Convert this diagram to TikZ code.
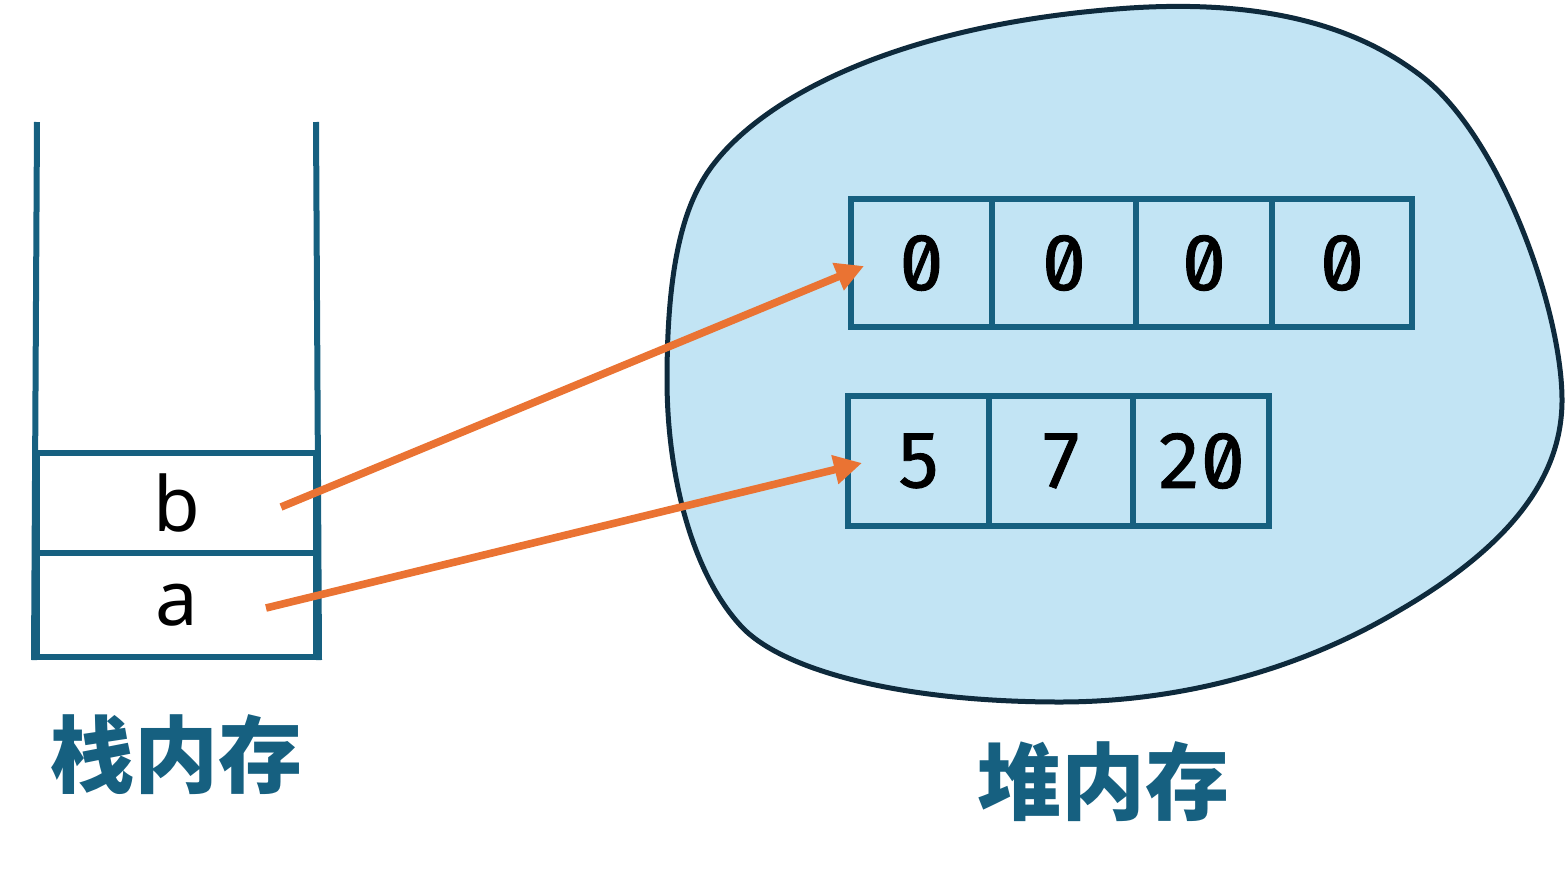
\documentclass[tikz,border=0pt]{standalone}
\usepackage{fontspec}
\setmainfont{Noto Sans}
\newfontfamily\monofont[Numbers={SlashedZero,Monospaced},FakeBold=1.2]{Fira Sans}
\newfontfamily\cjk{Noto Sans CJK SC}
\usetikzlibrary{arrows.meta}
\definecolor{boxblue}{RGB}{22,96,128}
\definecolor{blobfill}{RGB}{194,228,244}
\definecolor{blobline}{RGB}{14,42,60}
\definecolor{arroworange}{RGB}{234,115,51}
\tikzset{
  cell/.style={draw=boxblue, line width=3pt, inner sep=0pt, minimum height=64pt, font=\monofont\fontsize{39}{42}\selectfont},
  slot/.style={draw=boxblue, line width=3pt, inner sep=0pt, minimum width=139.5pt, font=\fontsize{38}{42}\selectfont},
  wall/.style={draw=boxblue, line width=3pt},
  ptr/.style={draw=arroworange, line width=3.8pt, -{Triangle[length=14pt,width=14pt]}},
  title/.style={text=boxblue, font=\cjk\bfseries\fontsize{42}{45}\selectfont, inner sep=0pt}
}
\begin{document}
\begin{tikzpicture}[x=0.5pt,y=-0.5pt]
\useasboundingbox (0,0) rectangle (1567,884);
% heap blob
\draw[blobline, fill=blobfill, line width=2.5pt]
 (667,380) .. controls (667,300) and (675,230) .. (700,185)
 .. controls (740,110) and (880,25) .. (1130,8)
 .. controls (1300,-3) and (1380,45) .. (1420,75)
 .. controls (1500,135) and (1562,310) .. (1562,400)
 .. controls (1562,470) and (1520,540) .. (1400,610)
 .. controls (1300,670) and (1180,702) .. (1060,702)
 .. controls (900,702) and (780,670) .. (740,625)
 .. controls (690,570) and (667,470) .. (667,380) -- cycle;
% stack walls
\coordinate (wl) at (37,122);
\coordinate (wr) at (316,122);
\node[slot, minimum height=50pt] (b) at (176.5,503) {b};
\node[slot, minimum height=52pt] (a) at (176.5,605) {a};
\draw[wall] (wl) -- (a.south west);
\draw[wall] (wr) -- (a.south east);
% top array
\node[cell, minimum width=70.5pt] (t1) at (921.5,263) {0};
\node[cell, minimum width=72pt] (t2) at (1064,263) {0};
\node[cell, minimum width=68pt] (t3) at (1204,263) {0};
\node[cell, minimum width=70pt] (t4) at (1342,263) {0};
% bottom array
\node[cell, minimum height=65pt, minimum width=70.5pt] (u1) at (918.5,461) {5};
\node[cell, minimum height=65pt, minimum width=72pt] (u2) at (1061,461) {7};
\node[cell, minimum height=65pt, minimum width=68pt] (u3) at (1201,461) {20};
% titles
\node[title] (stk) at (176,755) {栈内存};
\node[title] (heap) at (1103,782) {堆内存};
% pointers
\coordinate (bs) at (281,507);
\coordinate (as) at (266,608);
\coordinate (be) at (864,266);
\coordinate (ae) at (862,463);
\draw[ptr] (bs) -- (be);
\draw[ptr] (as) -- (ae);
\end{tikzpicture}
\end{document}
